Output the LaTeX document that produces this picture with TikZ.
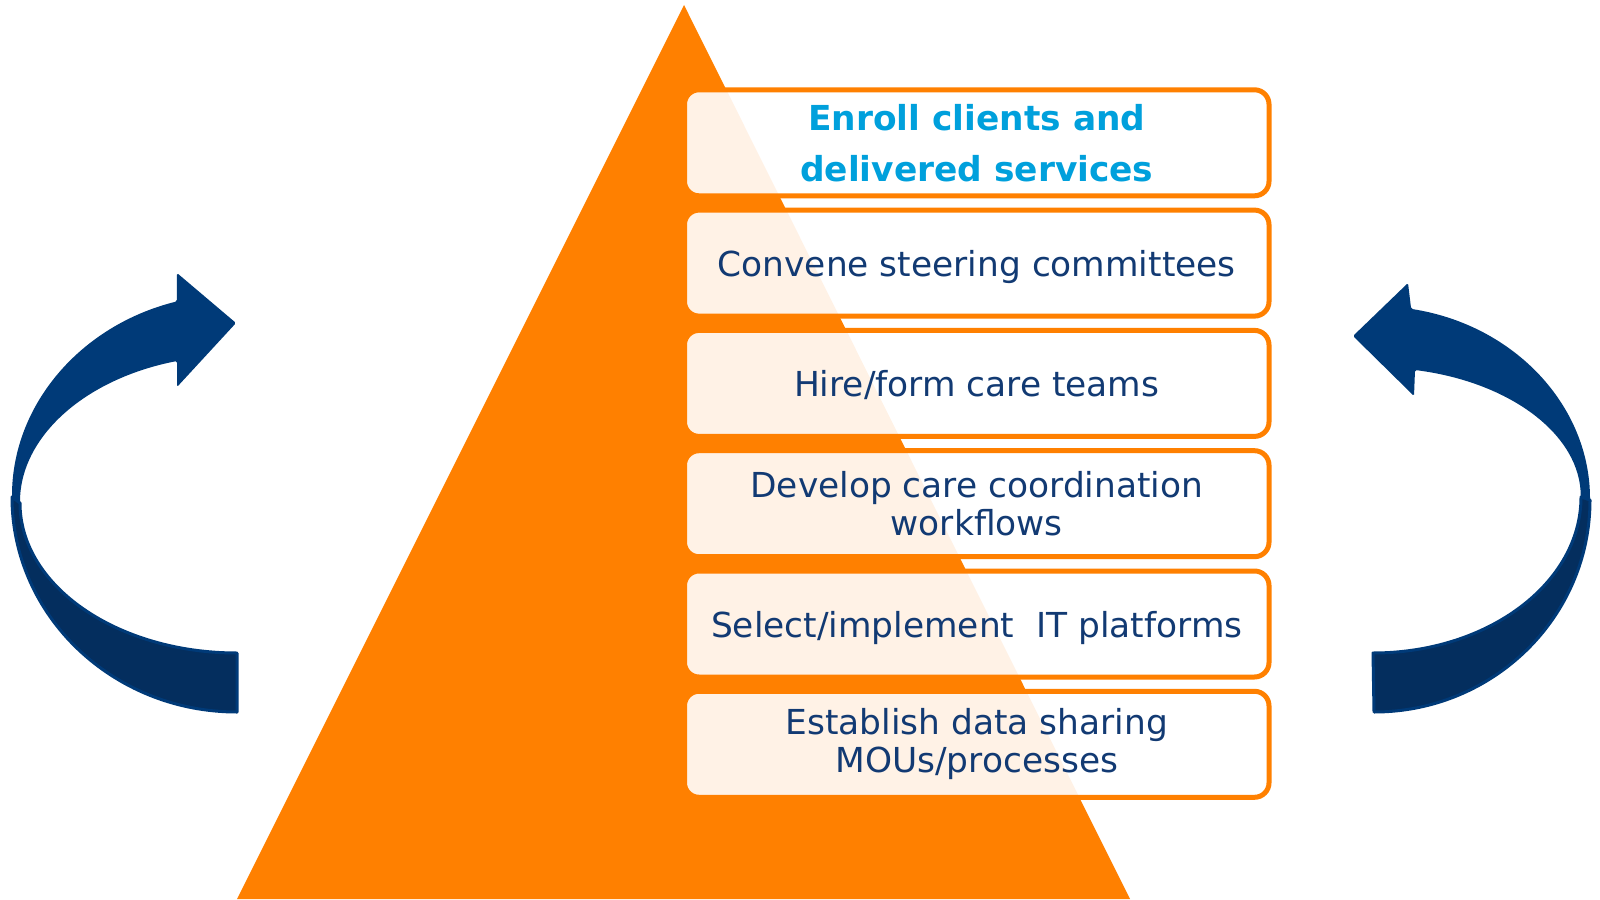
\documentclass[tikz,border=0pt]{standalone}
\usepackage{fontspec}
\setmainfont{DejaVu Sans}
\definecolor{orng}{RGB}{255,128,0}
\definecolor{navytext}{RGB}{18,58,115}
\definecolor{titlecyan}{RGB}{0,160,220}
\definecolor{arrowA}{RGB}{0,58,120}
\definecolor{arrowB}{RGB}{4,46,94}
\begin{document}
\begin{tikzpicture}[x=1pt,y=1pt,
  stepbox/.style={draw=orng, line width=5pt, fill=white, fill opacity=0.9, text opacity=1,
    rounded corners=14.5pt, minimum width=584.5pt, minimum height=106pt, inner sep=0pt,
    align=center, text=navytext, font=\fontsize{34.4}{37.7}\selectfont},
  onestep/.style={stepbox, text depth=0pt},
  titlebox/.style={stepbox, text=titlecyan, font=\bfseries\fontsize{34.4}{51}\selectfont},
  upperpart/.style={fill=arrowA},
  lowerpart/.style={fill=arrowB, draw=arrowA, line width=3pt, line join=round}]
\useasboundingbox (0,0) rectangle (1600,-899);
% pyramid
\fill[orng] (684,-5) -- (237,-899) -- (1130,-899) -- cycle;
% left arrow
\path[lowerpart] (12,-497) arc[start angle=180, end angle=270, x radius=225pt, y radius=215pt]
  -- (237,-653) arc[start angle=270, end angle=180, x radius=217pt, y radius=150pt] -- cycle;
\path[upperpart, rounded corners=1.5pt] (12,-497) arc[start angle=180, end angle=105.5, x radius=225pt, y radius=203pt]
  -- (177,-273) -- (236,-323) -- (177,-387) -- (177,-361)
  arc[start angle=106.05, end angle=180, x radius=217pt, y radius=148pt] -- cycle;
% right arrow
\path[lowerpart] (1590,-500) arc[start angle=0, end angle=-90, x radius=216pt, y radius=212pt]
  -- (1373,-653) arc[start angle=-90, end angle=0, x radius=208pt, y radius=156pt] -- cycle;
\path[upperpart, rounded corners=1.5pt] (1590,-500) arc[start angle=0, end angle=80.1, x radius=216pt, y radius=194pt]
  -- (1408,-283) -- (1353,-336) -- (1414,-396) -- (1415,-370)
  arc[start angle=78.5, end angle=0, x radius=207pt, y radius=130pt] -- cycle;
% steps
\node[titlebox] (b1) at (976.75,-142.8) {Enroll clients and\\delivered services};
\node[onestep] (b2) at (976.75,-263.1) {Convene steering committees};
\node[onestep] (b3) at (976.75,-383.4) {Hire/form care teams};
\node[stepbox] (b4) at (976.75,-503.7) {Develop care coordination\\workflows};
\node[onestep] (b5) at (976.75,-624.0) {Select/implement~~IT platforms};
\node[stepbox] (b6) at (976.75,-744.3) {Establish data sharing\\MOUs/processes};
\end{tikzpicture}
\end{document}
